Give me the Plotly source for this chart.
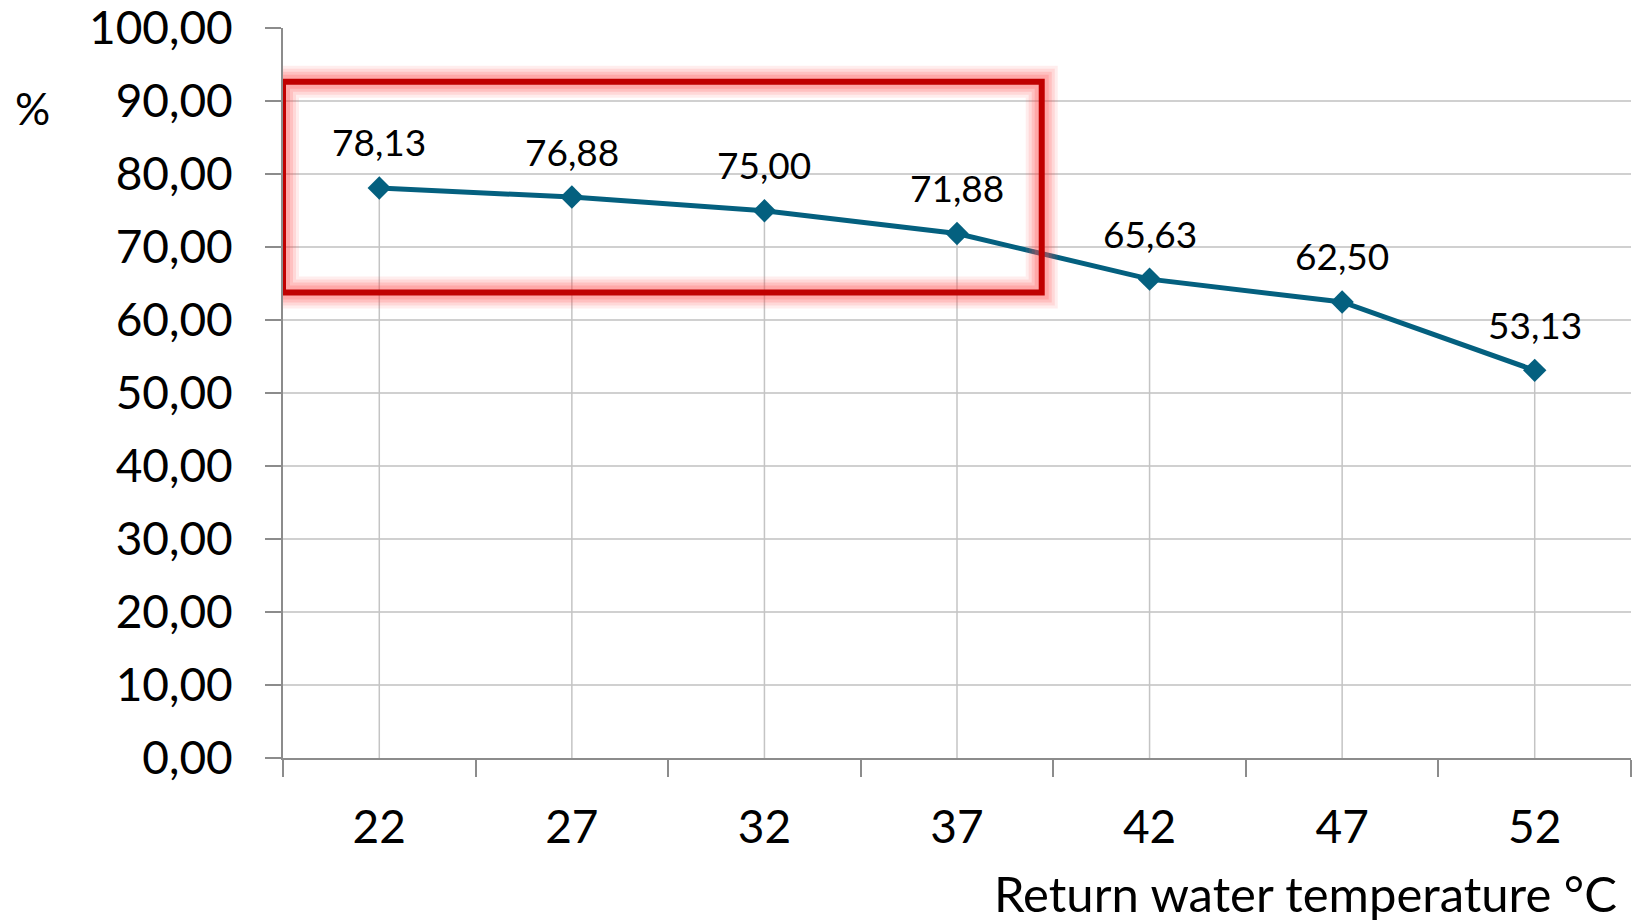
import plotly.graph_objects as go

# Return water temperature (°C) vs. percentage
temperatures = ["22", "27", "32", "37", "42", "47", "52"]
percent = [78.13, 76.88, 75.00, 71.88, 65.63, 62.50, 53.13]
y_ticks = [0, 10, 20, 30, 40, 50, 60, 70, 80, 90, 100]
y_tick_text = [f"{v:.2f}".replace(".", ",") for v in y_ticks]

# Highlighted region (category index span, value span)
box_x = [-0.5, 3.44]
box_y = [63.8, 92.7]

FONT = "Lato, 'Open Sans', sans-serif"
LINE_COLOR = "#04607F"

fig = go.Figure()

# Drop lines from the axis up to each point
drop_x, drop_y = [], []
for cat, val in zip(temperatures, percent):
    drop_x += [cat, cat, None]
    drop_y += [0, val, None]
fig.add_trace(go.Scatter(
    x=drop_x, y=drop_y, mode="lines",
    line=dict(color="#C4C4C4", width=1.5),
    hoverinfo="skip", showlegend=False,
))

fig.add_trace(go.Scatter(
    x=temperatures, y=percent, mode="lines+markers",
    line=dict(color=LINE_COLOR, width=5),
    marker=dict(symbol="diamond", size=18, color=LINE_COLOR),
    showlegend=False,
))

# Value labels above the points (x given as category index)
for i, val in enumerate(percent):
    fig.add_annotation(
        x=i, y=val, text=f"{val:.2f}".replace(".", ","),
        showarrow=False, yshift=46, xanchor="center", yanchor="middle",
        font=dict(family=FONT, size=37, color="black"),
    )

# Glowing red highlight frame
for w, op in [(32, 0.10), (26, 0.13), (20, 0.17), (14, 0.22)]:
    fig.add_shape(
        type="rect", xref="x", yref="y",
        x0=box_x[0], x1=box_x[1], y0=box_y[0], y1=box_y[1],
        line=dict(color=f"rgba(255,80,80,{op})", width=w),
        fillcolor="rgba(0,0,0,0)", layer="above",
    )
fig.add_shape(
    type="rect", xref="x", yref="y",
    x0=box_x[0], x1=box_x[1], y0=box_y[0], y1=box_y[1],
    line=dict(color="#C00000", width=6),
    fillcolor="rgba(0,0,0,0)", layer="above",
)

fig.add_annotation(
    xref="paper", yref="paper", x=-0.186, y=0.89, text="%",
    showarrow=False, xanchor="center", yanchor="middle",
    font=dict(family=FONT, size=44, color="black"),
)
fig.add_annotation(
    xref="paper", yref="paper", x=0.991, y=-0.185,
    text="Return water temperature °C",
    showarrow=False, xanchor="right", yanchor="middle",
    font=dict(family=FONT, size=49, color="black"),
)

fig.update_layout(
    width=1636, height=921,
    margin=dict(l=283, r=5, t=28, b=163, autoexpand=False),
    paper_bgcolor="white", plot_bgcolor="white",
    font=dict(family=FONT, color="black"),
)
fig.update_xaxes(
    type="category", range=[-0.5, 6.5], automargin=False,
    showgrid=False, showline=True, linecolor="#8C8C8C", linewidth=2,
    ticks="outside", tickson="boundaries", ticklen=17, tickwidth=2,
    tickcolor="#8C8C8C", ticklabelstandoff=28,
    tickfont=dict(family=FONT, size=46, color="black"),
    zeroline=False,
)
fig.update_yaxes(
    range=[0, 100.05], tickvals=y_ticks, ticktext=y_tick_text,
    automargin=False,
    showgrid=True, gridcolor="#D0D0D0", gridwidth=1.5,
    showline=True, linecolor="#8C8C8C", linewidth=2,
    ticks="outside", ticklen=16, tickwidth=2, tickcolor="#8C8C8C",
    ticklabelstandoff=23, ticklabeloverflow="allow",
    tickfont=dict(family=FONT, size=46, color="black"),
    zeroline=False,
)

fig.write_html("out.html")
